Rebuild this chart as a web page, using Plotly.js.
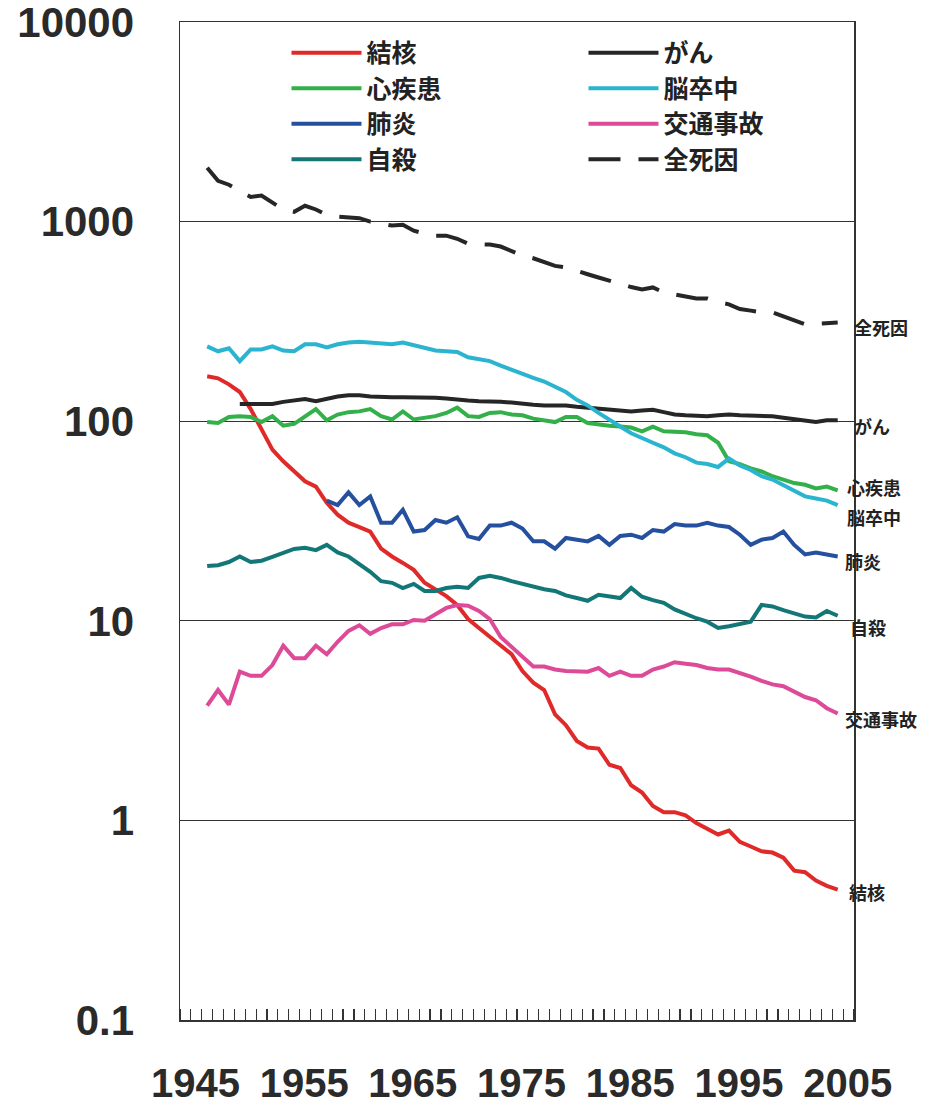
<!DOCTYPE html>
<html>
<head>
<meta charset="utf-8">
<script src="https://cdn.plot.ly/plotly-3.0.1.min.js"></script>
<style>html,body{margin:0;padding:0;background:#fff;}#chart{width:947px;height:1105px;}</style>
</head>
<body>
<div id="chart"></div>
<script>
// Years 1947 - 2005
var years = [];
for (var yr = 1947; yr <= 2005; yr++) years.push(yr);

var tuberculosis = [168,164,153,140,115,91,72,63,56,50,47,39,34,31,29.5,28,23,21,19.5,18,15.5,14.3,13.3,12,10.2,9.2,8.3,7.6,6.8,5.6,4.9,4.5,3.4,3.0,2.5,2.32,2.29,1.9,1.83,1.5,1.38,1.18,1.10,1.10,1.06,0.97,0.91,0.85,0.89,0.78,0.74,0.70,0.69,0.65,0.56,0.55,0.50,0.47,0.45];
var cancer = [null,null,null,122,122,123,122,125,127,129,126,130,133,135,135,133,132,132,132,132,131,131,130,128,127,126,126,125,124,122,121,120,120,120,118,117,116,114,113,112,113,114,111,108,107,106,106,107,108,107,107,106,106,104,102,100,99,101,101];
var heart = [99,98,105,106,105,99,106,95,97,106,115,101,108,111,112,115,106,102,112,102,104,106,110,117,106,105,110,111,108,107,103,101,99,105,105,98,96,95,94,93,89,94,89,88,88,86,85,78,63,61,58,56,53,51,49,48,46,47,45];
var stroke = [237,224,232,200,229,229,237,226,224,243,243,234,243,248,250,248,245,243,248,240,232,226,224,222,209,205,200,190,182,174,165,158,148,140,128,120,110,101,94,87,82,78,74,69,66,62,61,59,65,60,57,53,51,48,45,42,41,40,38];
var pneumonia = [null,null,null,null,null,null,null,null,null,null,null,40,38,44,38,42,31,31,36,28,28.5,32,31,33,26.5,25.7,30,30,31,29,25,25,23,26,25.5,25,26.6,24,26.6,27,26,28.5,28,30.5,30,30,31,30,29.5,27,24,25.5,26,28,24,21.5,22,21.5,21];
var traffic = [3.76,4.5,3.8,5.56,5.3,5.3,6.0,7.5,6.5,6.5,7.5,6.8,7.85,8.9,9.5,8.6,9.2,9.6,9.6,10.1,10,10.8,11.6,12,11.9,11.2,10.2,8.3,7.4,6.6,5.9,5.9,5.7,5.6,5.56,5.56,5.8,5.3,5.56,5.3,5.3,5.7,5.9,6.2,6.1,6.0,5.8,5.7,5.7,5.5,5.25,5.0,4.8,4.7,4.4,4.15,4.0,3.65,3.43];
var suicide = [18.8,19,19.7,21,19.7,20,20.9,22,22.9,23.2,22.6,24,22,21,19.3,17.6,15.8,15.5,14.6,15.3,14.1,14.1,14.6,14.8,14.6,16.4,16.8,16.4,15.8,15.3,14.8,14.4,14.1,13.4,13,12.6,13.5,13.2,13,14.6,13.2,12.7,12.3,11.4,10.8,10.3,9.9,9.2,9.4,9.6,9.9,12,11.8,11.3,10.9,10.5,10.4,11.2,10.6];
var allCauses = [1860,1600,1530,1420,1330,1350,1250,1150,1120,1200,1150,1080,1060,1050,1040,1000,975,955,965,900,870,850,850,820,775,770,767,750,715,676,655,630,600,590,570,545,525,505,485,470,457,468,442,432,422,412,412,395,385,365,358,351,351,335,318,306,308,310,312];

var seriesNames = ['結核','がん','心疾患','脳卒中','肺炎','交通事故','自殺','全死因'];
var seriesData = [tuberculosis, cancer, heart, stroke, pneumonia, traffic, suicide, allCauses];
var seriesColors = ['#e02a2a','#262626','#33b04a','#2ab4d0','#24509f','#dd4a98','#137778','#262626'];
var seriesDash = ['solid','solid','solid','solid','solid','solid','solid','32px,18px'];
var labelShift = [-2,-6,3,-12,-5,-5,-11,-4];
var labelXShift = [-7,-2,-9,-9,-11,-11,-6,-2];

var yTickVals = [0.1,1,10,100,1000,10000];
var yTickText = ['0.1','1','10','100','1000','10000'];
var xTickVals = [1945,1955,1965,1975,1985,1995,2005];
var xTickText = ['1945','1955','1965','1975','1985','1995','2005'];

var traces = seriesNames.map(function(n,i){
  return {
    x: years, y: seriesData[i], name: n, type: 'scatter', mode: 'lines',
    line: {color: seriesColors[i], width: 4, dash: seriesDash[i]},
    connectgaps: false, hoverinfo: 'skip'
  };
});

var annotations = seriesNames.map(function(n,i){
  var d = seriesData[i];
  var last = d[d.length-1];
  return {
    xref: 'paper', yref: 'y', x: 1, y: Math.log10(last),
    xanchor: 'left', yanchor: 'middle', xshift: labelXShift[i], yshift: labelShift[i],
    text: n, showarrow: false,
    font: {family: 'Noto Sans CJK JP', size: 18, weight: 700, color: '#222'}
  };
});

var layout = {
  width: 947, height: 1105,
  margin: {l: 180, r: 93, t: 22, b: 85},
  paper_bgcolor: '#fff', plot_bgcolor: '#fff',
  showlegend: true,
  legend: {
    orientation: 'h', x: 0.158, xanchor: 'left', y: 0.992, yanchor: 'top',
    entrywidth: 212, itemwidth: 70, bgcolor: 'rgba(0,0,0,0)',
    font: {family: 'Noto Sans CJK JP', size: 25, weight: 700, color: '#222'},
    traceorder: 'normal'
  },
  xaxis: {
    range: [1944.5, 2006.5], showgrid: false, zeroline: false,
    showline: true, mirror: true, linecolor: '#333', linewidth: 1.5,
    tickmode: 'array', tickvals: xTickVals, ticktext: xTickText, ticks: '',
    tickangle: 0, ticklabelstandoff: 27, ticklabelshift: 10, ticklabeloverflow: 'allow',
    tickfont: {family: 'Liberation Sans, Arial, sans-serif', size: 40, weight: 700, color: '#2a2a2a'},
    minor: {tickmode: 'linear', tick0: 1944.5, dtick: 1, ticks: 'inside', ticklen: 11, tickwidth: 1.2, tickcolor: '#333', showgrid: false}
  },
  yaxis: {
    type: 'log', range: [-1, 4], zeroline: false,
    showgrid: true, gridcolor: '#333', gridwidth: 1.2,
    showline: true, mirror: true, linecolor: '#333', linewidth: 1.5,
    tickmode: 'array', tickvals: yTickVals, ticktext: yTickText, ticks: '',
    ticklabelstandoff: 36, ticklabeloverflow: 'allow',
    tickfont: {family: 'Liberation Sans, Arial, sans-serif', size: 42, weight: 700, color: '#2a2a2a'}
  },
  annotations: annotations
};

Plotly.newPlot('chart', traces, layout, {displayModeBar: false, staticPlot: true});
</script>
</body>
</html>
